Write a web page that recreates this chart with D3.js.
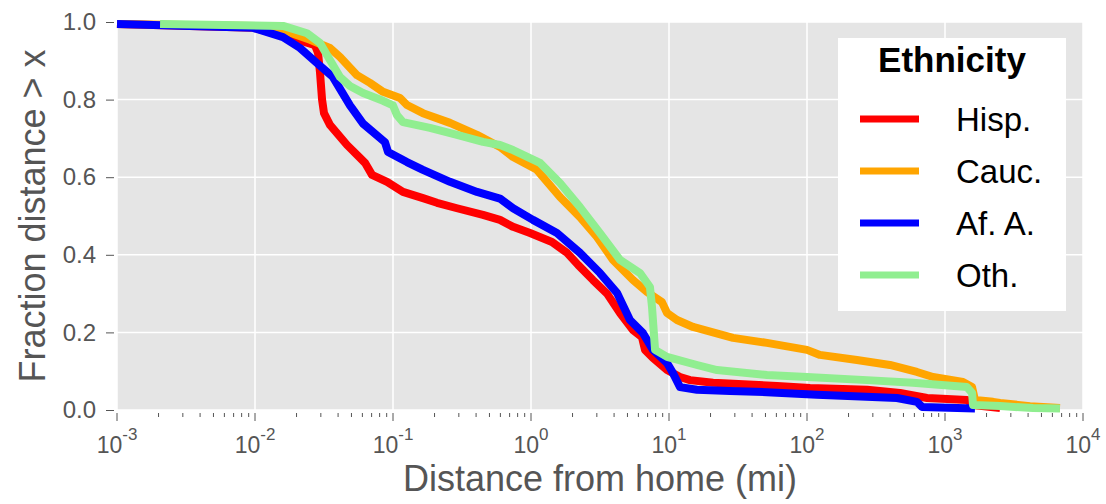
<!DOCTYPE html>
<html>
<head>
<meta charset="utf-8">
<script src="https://cdn.jsdelivr.net/npm/d3@7"></script>
<style>
  body { margin: 0; background: #fff; }
  svg { display: block; font-family: "Liberation Sans", Arial, sans-serif; }
</style>
</head>
<body>
<svg id="chart" width="1106" height="504"></svg>
<script>
// each point: [log10 distance from home (mi), fraction with distance > x]
const hispanic = [
  [-3.0, 0.995], [-2.007, 0.985], [-1.746, 0.96], [-1.565, 0.94], [-1.543, 0.92],
  [-1.529, 0.87], [-1.514, 0.80], [-1.50, 0.765], [-1.457, 0.735], [-1.333, 0.683],
  [-1.239, 0.65], [-1.203, 0.637], [-1.152, 0.606], [-1.043, 0.588], [-0.928, 0.562],
  [-0.783, 0.546], [-0.681, 0.534], [-0.536, 0.52], [-0.348, 0.503], [-0.225, 0.49],
  [-0.130, 0.472], [-0.007, 0.456], [0.152, 0.433], [0.261, 0.405], [0.341, 0.374],
  [0.449, 0.335], [0.551, 0.30], [0.645, 0.25], [0.739, 0.206], [0.804, 0.188],
  [0.826, 0.155], [0.884, 0.134], [0.986, 0.103], [1.080, 0.085], [1.152, 0.077],
  [1.319, 0.07], [1.783, 0.062], [2.022, 0.057], [2.435, 0.052], [2.674, 0.044],
  [2.870, 0.031], [3.159, 0.026], [3.203, 0.013], [3.399, 0.005]
];
const caucasian = [
  [-3.0, 0.995], [-2.007, 0.99], [-1.797, 0.979], [-1.601, 0.954], [-1.457, 0.933],
  [-1.384, 0.91], [-1.261, 0.863], [-1.167, 0.843], [-1.072, 0.82], [-0.949, 0.804],
  [-0.899, 0.786], [-0.783, 0.765], [-0.587, 0.74], [-0.391, 0.709], [-0.225, 0.678],
  [-0.130, 0.652], [0.043, 0.619], [0.210, 0.549], [0.355, 0.497], [0.478, 0.446],
  [0.594, 0.387], [0.739, 0.335], [0.841, 0.304], [0.949, 0.278], [0.986, 0.25],
  [1.058, 0.232], [1.174, 0.214], [1.464, 0.186], [1.710, 0.173], [2.0, 0.155],
  [2.094, 0.142], [2.362, 0.129], [2.601, 0.116], [2.797, 0.098], [2.913, 0.085],
  [3.130, 0.072], [3.196, 0.059], [3.217, 0.026], [3.348, 0.021], [3.399, 0.018],
  [3.616, 0.01], [3.833, 0.005]
];
const africanAmerican = [
  [-3.0, 0.995], [-2.014, 0.985], [-1.797, 0.961], [-1.674, 0.933], [-1.551, 0.894],
  [-1.435, 0.858], [-1.312, 0.785], [-1.217, 0.738], [-1.094, 0.701], [-1.058, 0.69],
  [-1.036, 0.665], [-0.899, 0.639], [-0.783, 0.619], [-0.587, 0.588], [-0.391, 0.562],
  [-0.225, 0.545], [-0.130, 0.52], [0.014, 0.49], [0.188, 0.456], [0.355, 0.405],
  [0.5, 0.353], [0.623, 0.302], [0.717, 0.232], [0.812, 0.198], [0.884, 0.155],
  [0.986, 0.121], [1.029, 0.095], [1.080, 0.059], [1.203, 0.052], [1.442, 0.049],
  [1.710, 0.046], [2.072, 0.039], [2.652, 0.031], [2.797, 0.021], [2.833, 0.008],
  [3.217, 0.004]
];
const other = [
  [-2.688, 0.995], [-1.797, 0.99], [-1.623, 0.971], [-1.529, 0.946], [-1.457, 0.902],
  [-1.384, 0.858], [-1.312, 0.835], [-1.217, 0.817], [-1.072, 0.797], [-1.0, 0.785],
  [-0.971, 0.76], [-0.928, 0.742], [-0.732, 0.727], [-0.536, 0.709], [-0.348, 0.691],
  [-0.225, 0.683], [-0.130, 0.670], [0.065, 0.637], [0.210, 0.585], [0.355, 0.523],
  [0.5, 0.456], [0.645, 0.387], [0.790, 0.353], [0.862, 0.317], [0.877, 0.265],
  [0.899, 0.155], [0.986, 0.137], [1.203, 0.116], [1.348, 0.103], [1.710, 0.09],
  [2.0, 0.085], [2.435, 0.077], [2.768, 0.07], [3.159, 0.059], [3.196, 0.044],
  [3.203, 0.013], [3.399, 0.01], [3.638, 0.005], [3.833, 0.004]
];

const seriesNames = ["Hisp.", "Cauc.", "Af. A.", "Oth."];
const seriesColors = ["#ff0000", "#ffa500", "#0000ff", "#90ee90"];
const seriesData = [hispanic, caucasian, africanAmerican, other];
const xTickExps = [-3, -2, -1, 0, 1, 2, 3, 4];
const yTicks = [0.0, 0.2, 0.4, 0.6, 0.8, 1.0];

const plotLeft = 117, plotRight = 1083, plotTop = 22, plotBottom = 410;
const svg = d3.select('#chart');

const x = d3.scaleLog().domain([1e-3, 1e4]).range([plotLeft, plotRight]);
const y = d3.scaleLinear().domain([0, 1]).range([plotBottom, plotTop]);

svg.append('rect')
  .attr('x', plotLeft).attr('y', plotTop)
  .attr('width', plotRight - plotLeft).attr('height', plotBottom - plotTop)
  .attr('fill', '#e5e5e5');

// grid
svg.append('g').selectAll('line')
  .data(xTickExps)
  .join('line')
  .attr('x1', d => x(10 ** d)).attr('x2', d => x(10 ** d))
  .attr('y1', plotTop).attr('y2', plotBottom)
  .attr('stroke', '#fff').attr('stroke-width', 1.5);

svg.append('g').selectAll('line')
  .data(yTicks)
  .join('line')
  .attr('x1', plotLeft).attr('x2', plotRight)
  .attr('y1', d => y(d)).attr('y2', d => y(d))
  .attr('stroke', '#fff').attr('stroke-width', 1.5);

// y axis
const yAxis = d3.axisLeft(y).tickValues(yTicks).tickFormat(d3.format('.1f'))
  .tickSize(8).tickPadding(10);
const gy = svg.append('g')
  .attr('transform', `translate(${plotLeft - 3},0)`)
  .call(yAxis);
gy.select('.domain').remove();
gy.selectAll('line').attr('stroke', '#555');
gy.selectAll('text').attr('fill', '#555').style('font-size', '24px')
  .attr('font-family', '"Liberation Sans", Arial, sans-serif');

// x axis: major + minor ticks
const minor = [];
xTickExps.slice(0, -1).forEach(e => {
  for (let k = 2; k <= 9; k++) minor.push(k * 10 ** e);
});
const gx = svg.append('g').attr('transform', `translate(0,${plotBottom + 3})`);
gx.selectAll('line.minor')
  .data(minor)
  .join('line')
  .attr('class', 'minor')
  .attr('x1', d => x(d)).attr('x2', d => x(d))
  .attr('y1', 0).attr('y2', 4)
  .attr('stroke', '#555').attr('stroke-width', 1);
gx.selectAll('line.major')
  .data(xTickExps)
  .join('line')
  .attr('class', 'major')
  .attr('x1', d => x(10 ** d)).attr('x2', d => x(10 ** d))
  .attr('y1', 0).attr('y2', 8)
  .attr('stroke', '#555').attr('stroke-width', 1);

const xLabels = gx.selectAll('text')
  .data(xTickExps)
  .join('text')
  .attr('x', d => x(10 ** d))
  .attr('y', 40)
  .attr('text-anchor', 'middle')
  .attr('fill', '#555')
  .style('font-size', '23px');
xLabels.append('tspan').text('10');
xLabels.append('tspan')
  .attr('dy', -13)
  .style('font-size', '17px')
  .text(d => d);

// axis labels
svg.append('text')
  .attr('x', (plotLeft + plotRight) / 2)
  .attr('y', 491)
  .attr('text-anchor', 'middle')
  .attr('fill', '#555')
  .style('font-size', '36px')
  .text('Distance from home (mi)');

svg.append('text')
  .attr('transform', `translate(45,${(plotTop + plotBottom) / 2}) rotate(-90)`)
  .attr('text-anchor', 'middle')
  .attr('fill', '#555')
  .style('font-size', '36px')
  .text('Fraction distance > x');

// curves
const line = d3.line()
  .x(d => x(10 ** d[0]))
  .y(d => y(d[1]));

svg.append('g').selectAll('path')
  .data(seriesData)
  .join('path')
  .attr('d', line)
  .attr('fill', 'none')
  .attr('stroke', (d, i) => seriesColors[i])
  .attr('stroke-width', 8)
  .attr('stroke-linejoin', 'round');

// legend
const legend = svg.append('g');
legend.append('rect')
  .attr('x', 838).attr('y', 38)
  .attr('width', 228).attr('height', 273)
  .attr('fill', '#fff');
legend.append('text')
  .attr('x', 952).attr('y', 72)
  .attr('text-anchor', 'middle')
  .attr('font-weight', 'bold')
  .style('font-size', '35px')
  .text('Ethnicity');
const entries = legend.selectAll('g.entry')
  .data(seriesNames)
  .join('g')
  .attr('class', 'entry')
  .attr('transform', (d, i) => `translate(0,${119 + i * 52})`);
entries.append('line')
  .attr('x1', 860).attr('x2', 919)
  .attr('stroke', (d, i) => seriesColors[i])
  .attr('stroke-width', 7);
entries.append('text')
  .attr('x', 956).attr('y', 12)
  .style('font-size', '33px')
  .text(d => d);
</script>
</body>
</html>
